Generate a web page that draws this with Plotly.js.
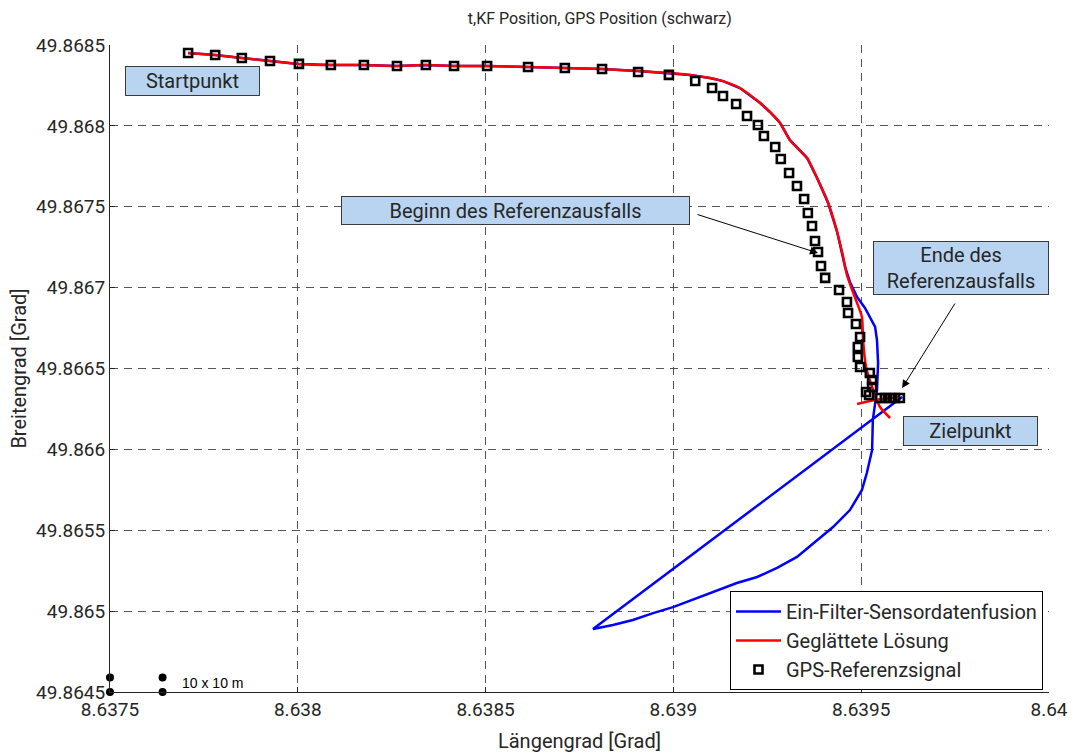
<!DOCTYPE html>
<html>
<head>
<meta charset="utf-8">
<script src="https://cdn.plot.ly/plotly-3.0.1.min.js"></script>
<style>html,body{margin:0;padding:0;background:#fff;}#plot{width:1073px;height:754px;}</style>
</head>
<body>
<div id="plot"></div>
<script>
// ---- data ----
const gpsLon = [8.637708,8.637780,8.637851,8.637926,8.638003,8.638088,8.638176,8.638264,8.638341,8.638416,8.638504,8.638613,8.638711,8.638810,8.638906,8.638988,8.639058,8.639103,8.639132,8.639167,8.639196,8.639225,8.639241,8.639271,8.639286,8.639308,8.639329,8.639348,8.639358,8.639369,8.639377,8.639385,8.639393,8.639404,8.639441,8.639462,8.639465,8.639486,8.639497,8.639491,8.639491,8.639497,8.639523,8.639529,8.639529,8.639513,8.639521,8.639550,8.639563,8.639577,8.639590,8.639603];
const gpsLat = [49.868451,49.868438,49.868420,49.868401,49.868383,49.868376,49.868376,49.868370,49.868376,49.868370,49.868370,49.868364,49.868358,49.868352,49.868333,49.868315,49.868277,49.868234,49.868185,49.868135,49.868061,49.868005,49.867937,49.867869,49.867795,49.867709,49.867628,49.867548,49.867461,49.867381,49.867288,49.867220,49.867134,49.867060,49.866985,49.866911,49.866843,49.866775,49.866695,49.866633,49.866571,49.866509,49.866472,49.866429,49.866386,49.866355,49.866336,49.866318,49.866318,49.866318,49.866318,49.866318];

const redLon = [8.637708,8.637780,8.637851,8.637926,8.638003,8.638088,8.638176,8.638264,8.638341,8.638416,8.638504,8.638613,8.638711,8.638810,8.638906,8.638988,8.639044,8.639097,8.639132,8.639177,8.639231,8.639257,8.639284,8.639310,8.639356,8.639385,8.639412,8.639436,8.639452,8.639462,8.639476,8.639491,8.639502,8.639505,8.639513,8.639529,8.639550,8.639577,null,8.639489,8.639537,8.639603];
const redLat = [49.868451,49.868438,49.868420,49.868401,49.868383,49.868376,49.868376,49.868370,49.868376,49.868370,49.868370,49.868364,49.868358,49.868352,49.868339,49.868327,49.868315,49.868296,49.868277,49.868234,49.868141,49.868086,49.868018,49.867913,49.867801,49.867665,49.867523,49.867344,49.867189,49.867078,49.866985,49.866893,49.866818,49.866676,49.866509,49.866386,49.866262,49.866194,null,49.866281,49.866305,49.866324];

const blueLon = [8.637708,8.637780,8.637851,8.637926,8.638003,8.638088,8.638176,8.638264,8.638341,8.638416,8.638504,8.638613,8.638711,8.638810,8.638906,8.638988,8.639044,8.639097,8.639132,8.639177,8.639231,8.639257,8.639284,8.639310,8.639356,8.639385,8.639412,8.639436,8.639452,8.639457,8.639470,8.639489,8.639510,8.639523,8.639537,8.639542,8.639545,8.639542,8.639531,8.639529,8.639515,8.639502,8.639470,8.639425,8.639372,8.639329,8.639276,8.639223,8.639169,8.639105,8.639052,8.638999,8.638946,8.638892,8.638839,8.638786,8.639609];
const blueLat = [49.868451,49.868438,49.868420,49.868401,49.868383,49.868376,49.868376,49.868370,49.868376,49.868370,49.868370,49.868364,49.868358,49.868352,49.868339,49.868327,49.868315,49.868296,49.868277,49.868234,49.868141,49.868086,49.868018,49.867913,49.867801,49.867665,49.867523,49.867344,49.867189,49.867128,49.867035,49.866942,49.866874,49.866818,49.866757,49.866676,49.866534,49.866367,49.866182,49.865996,49.865854,49.865749,49.865625,49.865520,49.865421,49.865335,49.865267,49.865211,49.865174,49.865118,49.865069,49.865025,49.864988,49.864945,49.864914,49.864889,49.866324];

const scaleLon = [8.6375, 8.6375, 8.63764, 8.63764];
const scaleLat = [49.8645, 49.86459, 49.8645, 49.86459];

const xTickVals = [8.6375, 8.638, 8.6385, 8.639, 8.6395, 8.64];
const xTickText = ["8.6375", "8.638", "8.6385", "8.639", "8.6395", "8.64"];
const yTickVals = [49.8645, 49.865, 49.8655, 49.866, 49.8665, 49.867, 49.8675, 49.868, 49.8685];
const yTickText = ["49.8645", "49.865", "49.8655", "49.866", "49.8665", "49.867", "49.8675", "49.868", "49.8685"];

const seriesNames = ["Ein-Filter-Sensordatenfusion", "Geglättete Lösung", "GPS-Referenzsignal"];

// ---- plot ----
const FONT = "Roboto, 'DejaVu Sans', sans-serif";
const TXT = "#262626";

const traces = [
  {x: blueLon, y: blueLat, mode: "lines", name: seriesNames[0],
   line: {color: "#0000ff", width: 2.5}, hoverinfo: "skip"},
  {x: redLon, y: redLat, mode: "lines", name: seriesNames[1], connectgaps: false,
   line: {color: "#ff0000", width: 2.5, shape: "spline", smoothing: 0.6}, hoverinfo: "skip"},
  {x: gpsLon, y: gpsLat, mode: "markers", name: seriesNames[2],
   marker: {symbol: "square-open", size: 8, color: "#000000", line: {width: 2.6, color: "#000000"}},
   hoverinfo: "skip"},
  {x: scaleLon, y: scaleLat, mode: "markers", showlegend: false, cliponaxis: false,
   marker: {symbol: "circle", size: 8, color: "#000000"}, hoverinfo: "skip"}
];

const boxStyle = {xref: "paper", yref: "paper", showarrow: false, bgcolor: "#b9d4f1",
  bordercolor: "#3a3a3a", borderwidth: 1, font: {family: FONT, size: 20, color: TXT},
  xanchor: "center", yanchor: "middle", align: "center"};

const layout = {
  width: 1073, height: 754,
  paper_bgcolor: "#ffffff", plot_bgcolor: "#ffffff",
  margin: {l: 110, r: 24, t: 45, b: 62},
  showlegend: true,
  font: {family: FONT, color: TXT, size: 19},
  title: {text: "t,KF Position, GPS Position (schwarz)", font: {family: FONT, size: 16, color: TXT},
          x: 0.559, xanchor: "center", y: 0.976, yanchor: "middle", xref: "container", yref: "container"},
  xaxis: {range: [8.6375, 8.64], tickvals: xTickVals, ticktext: xTickText,
          showgrid: true, gridcolor: "#555555", griddash: "8px,6px", gridwidth: 1,
          showline: true, linecolor: "#262626", linewidth: 1, zeroline: false,
          ticks: "inside", ticklen: 5, tickcolor: "#262626",
          tickfont: {family: FONT, size: 19, color: TXT},
          title: {text: "Längengrad [Grad]", font: {family: FONT, size: 20, color: TXT}, standoff: 14},
          automargin: false},
  yaxis: {range: [49.8645, 49.8685], tickvals: yTickVals, ticktext: yTickText,
          showgrid: true, gridcolor: "#555555", griddash: "8px,6px", gridwidth: 1,
          showline: true, linecolor: "#262626", linewidth: 1, zeroline: false,
          ticks: "inside", ticklen: 5, tickcolor: "#262626",
          tickfont: {family: FONT, size: 19, color: TXT},
          title: {text: "Breitengrad [Grad]", font: {family: FONT, size: 20, color: TXT}, standoff: 4},
          automargin: false},
  legend: {x: 0.9936, xanchor: "right", y: 0.003, yanchor: "bottom",
           bgcolor: "#ffffff", bordercolor: "#000000", borderwidth: 1, itemwidth: 45,
           font: {family: FONT, size: 20, color: TXT}, tracegroupgap: 0},
  annotations: [
    Object.assign({}, boxStyle, {text: "Startpunkt", x: 0.0879, y: 0.9444, width: 131, height: 26}),
    Object.assign({}, boxStyle, {text: "Beginn des Referenzausfalls", x: 0.4318, y: 0.7442, width: 345, height: 25}),
    Object.assign({}, boxStyle, {text: "Ende des<br>Referenzausfalls", x: 0.9063, y: 0.6553, width: 172, height: 50}),
    Object.assign({}, boxStyle, {text: "Zielpunkt", x: 0.9164, y: 0.4034, width: 131, height: 26}),
    {xref: "x", yref: "y", axref: "x", ayref: "y", x: 8.639385, y: 49.867214, ax: 8.639060, ay: 49.867455,
     text: "", showarrow: true, arrowhead: 2, arrowsize: 1.6, arrowwidth: 1, arrowcolor: "#000000", standoff: 0},
    {xref: "x", yref: "y", axref: "x", ayref: "y", x: 8.639609, y: 49.866379, ax: 8.639752, ay: 49.866911,
     text: "", showarrow: true, arrowhead: 2, arrowsize: 1.6, arrowwidth: 1, arrowcolor: "#000000", standoff: 0},
    {xref: "x", yref: "y", x: 8.637686, y: 49.864556, text: "10 x 10 m", showarrow: false,
     xanchor: "left", yanchor: "middle", font: {family: "'Liberation Sans', Arial, sans-serif", size: 14, color: "#000000"}}
  ]
};

Plotly.newPlot("plot", traces, layout, {displayModeBar: false, staticPlot: true});
</script>
</body>
</html>
